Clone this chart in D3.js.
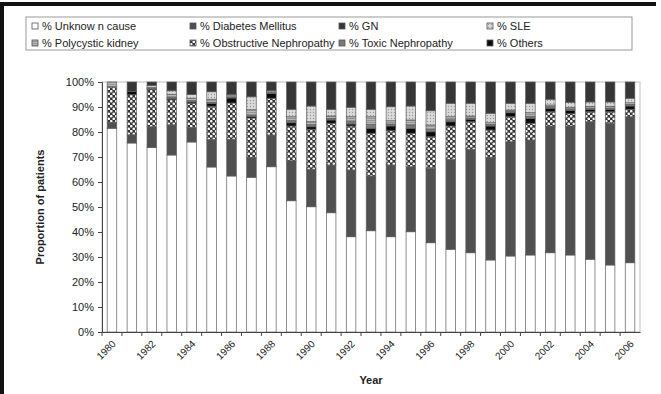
<!DOCTYPE html>
<html><head><meta charset="utf-8">
<script src="https://cdn.jsdelivr.net/npm/d3@7"></script>
<style>
html,body{margin:0;padding:0;background:#fff;}
svg{display:block;font-family:"Liberation Sans",Arial,sans-serif;}
</style></head>
<body><svg id="c" width="661" height="394"></svg>
<script>
const years = d3.range(1980, 2007).map(String);
const tickYears = ["1980","1982","1984","1986","1988","1990","1992","1994","1996","1998","2000","2002","2004","2006"];
const yTicks = [0,0.1,0.2,0.3,0.4,0.5,0.6,0.7,0.8,0.9,1.0];

const unknown     = [81.5,75.6,73.8,70.8,76.0,66.0,62.4,61.9,66.1,52.5,50.1,47.7,38.1,40.5,38.1,40.1,35.7,33.1,31.7,28.8,30.4,30.8,31.7,30.8,29.1,26.8,27.7];
const diabetes    = [2.4,3.3,8.3,12.1,5.8,11.0,14.7,8.0,12.7,16.0,15.0,19.1,26.7,21.9,28.7,26.0,29.8,36.0,41.4,41.1,45.7,46.0,50.7,51.6,55.0,56.7,58.4];
const obstructive = [14.2,16.0,15.0,10.0,9.7,13.3,14.5,15.7,14.7,13.9,16.0,16.7,17.6,17.1,13.7,13.4,12.6,13.3,11.0,10.9,10.0,6.7,5.7,4.9,4.0,4.6,3.0];
const others      = [0,1.4,0.3,0.5,0.5,1.1,2.0,0.6,2.0,1.3,1.0,1.3,0.8,2.0,1.9,2.0,2.0,1.7,1.0,1.6,1.6,2.0,1.4,1.3,0.9,0.9,1.3];
const toxic       = [0,0,0,0.5,0.5,0.5,0.3,0.5,0,0.8,0.8,0.6,1.0,1.5,0.8,1.3,0.9,0.8,0.5,0.6,0.5,0.8,0.6,0.6,0.6,0.6,0.6];
const polycystic  = [1.9,0,0.5,1.2,1.0,1.2,0.6,2.2,0.5,1.6,1.2,1.0,1.9,3.1,1.3,2.0,1.8,1.2,0.8,0.7,0.6,1.4,0.7,0.7,0.7,0.7,0.7];
const sle         = [0,0,0.7,1.4,1.5,3.0,0.5,5.2,0.5,3.0,6.3,2.7,3.8,3.0,5.6,5.6,5.7,5.4,5.1,3.8,2.7,3.8,2.3,2.0,1.7,1.7,1.8];
const gn          = [0,3.7,1.4,3.5,5.0,3.9,5.0,5.9,3.5,10.9,9.6,10.9,10.1,10.9,9.9,9.6,11.5,8.5,8.5,12.5,8.5,8.5,6.9,8.1,8.0,8.0,6.5];

const seriesKeys = ["unknown","diabetes","obstructive","others","toxic","polycystic","sle","gn"];
const seriesData = {unknown, diabetes, obstructive, others, toxic, polycystic, sle, gn};
const seriesLabels = {
  unknown:"% Unknow n cause", diabetes:"% Diabetes Mellitus", gn:"% GN", sle:"% SLE",
  polycystic:"% Polycystic kidney", obstructive:"% Obstructive Nephropathy", toxic:"% Toxic Nephropathy", others:"% Others"
};
const legendOrder = [["unknown","diabetes","gn","sle"],["polycystic","obstructive","toxic","others"]];

const rows = years.map((y,i)=>{const r={year:y}; seriesKeys.forEach(k=>r[k]=seriesData[k][i]); return r;});

const svg = d3.select("#c");
const defs = svg.append("defs");
const p1 = defs.append("pattern").attr("id","pObs").attr("patternUnits","userSpaceOnUse").attr("width",5).attr("height",5);
p1.append("rect").attr("width",5).attr("height",5).attr("fill","#353535");
p1.append("circle").attr("cx",1.25).attr("cy",1.25).attr("r",1.35).attr("fill","#f4f4f4");
p1.append("circle").attr("cx",3.75).attr("cy",3.75).attr("r",1.35).attr("fill","#f4f4f4");
const p2 = defs.append("pattern").attr("id","pPoly").attr("patternUnits","userSpaceOnUse").attr("width",4).attr("height",2);
p2.append("rect").attr("width",4).attr("height",2).attr("fill","#b8b8b8");
p2.append("rect").attr("width",4).attr("height",0.8).attr("fill","#8c8c8c");
const p3 = defs.append("pattern").attr("id","pSle").attr("patternUnits","userSpaceOnUse").attr("width",3).attr("height",3);
p3.append("rect").attr("width",3).attr("height",3).attr("fill","#dadada");
p3.append("circle").attr("cx",1.5).attr("cy",1.5).attr("r",0.7).attr("fill","#9a9a9a");

const fills = {unknown:"#ffffff", diabetes:"#505050", obstructive:"url(#pObs)", others:"#0a0a0a",
  toxic:"#7a7a7a", polycystic:"url(#pPoly)", sle:"url(#pSle)", gn:"#363636"};

svg.append("rect").attr("x",0).attr("y",2).attr("width",656).attr("height",4).attr("fill","#111");
svg.append("rect").attr("x",0).attr("y",2).attr("width",4).attr("height",392).attr("fill","#111");

const m = {l:102, r:640, t:82, b:332};
const x = d3.scaleBand().domain(years).range([m.l, m.r]).paddingInner(0.52).paddingOuter(0.26);
const y = d3.scaleLinear().domain([0,1]).range([m.b, m.t]);

svg.append("rect").attr("x",m.l).attr("y",m.t).attr("width",m.r-m.l).attr("height",m.b-m.t)
  .attr("fill","none").attr("stroke","#bdbdbd").attr("stroke-width",1);

const stack = d3.stack().keys(seriesKeys).offset(d3.stackOffsetExpand);
const stacked = stack(rows);

svg.append("g").selectAll("g").data(stacked).join("g")
  .attr("fill", d=>fills[d.key])
  .selectAll("rect").data(d=>d).join("rect")
  .attr("x", d=>x(d.data.year))
  .attr("width", x.bandwidth())
  .attr("y", d=>y(d[1]))
  .attr("height", d=>Math.max(0, y(d[0])-y(d[1])))
  .attr("stroke","#5e5e5e").attr("stroke-width",0.7);

const yAxis = svg.append("g").attr("transform",`translate(${m.l},0)`)
  .call(d3.axisLeft(y).tickValues(yTicks).tickFormat(d3.format(".0%")).tickSize(4).tickPadding(4));
yAxis.select(".domain").attr("stroke","#444");
yAxis.selectAll(".tick line").attr("stroke","#444");
yAxis.selectAll("text").attr("font-size",11).attr("fill","#222");

const xAxis = svg.append("g").attr("transform",`translate(0,${m.b})`)
  .call(d3.axisBottom(x).tickValues(tickYears).tickSize(0).tickPadding(0));
xAxis.select(".domain").attr("stroke","#444");
xAxis.selectAll("text").attr("font-size",10).attr("fill","#222")
  .attr("text-anchor","end")
  .attr("transform","translate(2,10) rotate(-45)")
  .attr("dy","0.35em");
svg.append("g").selectAll("line").data(years).join("line")
  .attr("x1", d=>x(d)-x.step()*x.paddingInner()/2).attr("x2", d=>x(d)-x.step()*x.paddingInner()/2)
  .attr("y1", m.b).attr("y2", m.b+4).attr("stroke","#444");

svg.append("text").attr("x",(m.l+m.r)/2).attr("y",384).attr("text-anchor","middle")
  .attr("font-size",11).attr("font-weight","bold").attr("fill","#222").text("Year");
svg.append("text").attr("transform",`translate(44,${(m.t+m.b)/2}) rotate(-90)`).attr("text-anchor","middle")
  .attr("font-size",11).attr("font-weight","bold").attr("fill","#222").text("Proportion of patients");

const lg = svg.append("g");
lg.append("rect").attr("x",26).attr("y",17).attr("width",606).attr("height",33)
  .attr("fill","#fff").attr("stroke","#999").attr("stroke-width",1);
const colX = [32, 190, 339, 487];
const rowY = [26, 43];
legendOrder.forEach((row,ri)=>row.forEach((k,ci)=>{
  const g = lg.append("g").attr("transform",`translate(${colX[ci]},${rowY[ri]})`);
  g.append("rect").attr("x",0).attr("y",-3).attr("width",6).attr("height",6)
    .attr("fill",fills[k]).attr("stroke","#555").attr("stroke-width",0.8);
  g.append("text").attr("x",10).attr("y",0).attr("dy","0.35em").attr("font-size",11).attr("fill","#222").text(seriesLabels[k]);
}));
</script>
</body></html>
